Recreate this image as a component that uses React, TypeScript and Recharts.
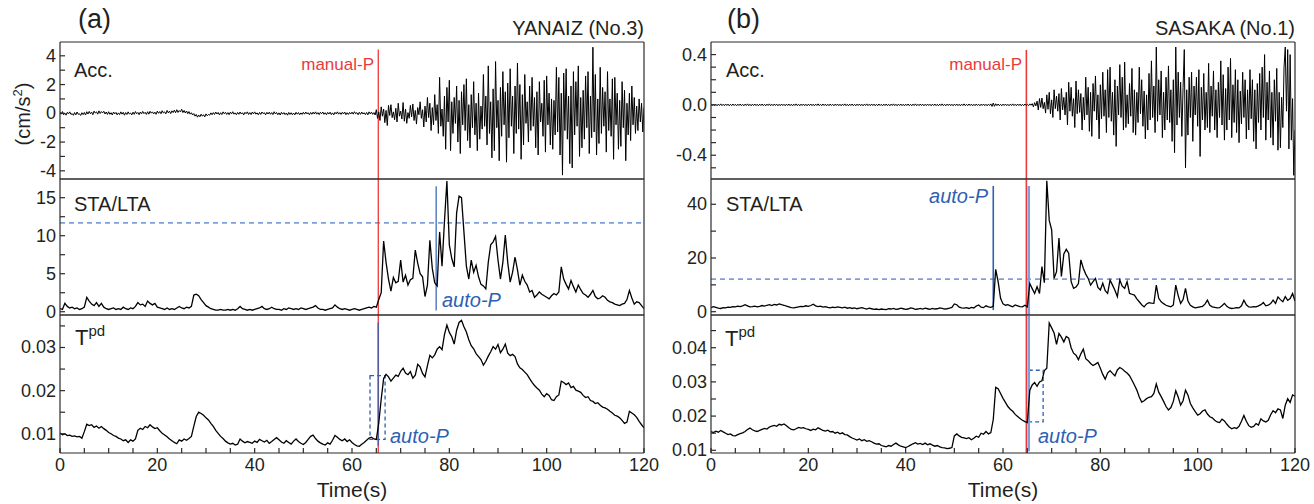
import React from 'react';
import { LineChart, Line, XAxis, YAxis, ReferenceLine, ReferenceArea } from 'recharts';

// ---- time axis ----
const X_TICKS = [0, 5, 10, 15, 20, 25, 30, 35, 40, 45, 50, 55, 60, 65, 70, 75, 80, 85, 90, 95, 100, 105, 110, 115, 120];
const X_LABELS = [0, 20, 40, 60, 80, 100, 120];

// sampling of the traced series
const QUIET_DT = 0.25; // acc before the P arrival
const STRONG_START = 65;
const STRONG_DT = 0.25; // acc after the P arrival
const SLOW_DT = 0.5; // STA/LTA and Tpd

// ---- (a) YANAIZ (No.3) ----
const accAQuiet = [
  .08, -.06, .12, -.1, .02, -.13, .07, -.04, .1, -.08, -.02, -.14, .05, -.11, .09, -.07,
  -.03, -.15, .04, -.09, .06, -.12, .11, -.05, .13, -.03, .08, -.1, .15, .02, .1, -.06,
  .17, -.01, .12, .03, .14, -.05, .09, -.08, .11, -.07, .04, -.12, .09, -.04, .06, -.11,
  .03, -.09, .1, -.06, .07, -.13, .05, -.08, .1, -.05, .02, -.11, .08, -.07, .12, -.03,
  .06, -.1, .09, -.04, .13, -.02, .07, -.08, .11, -.06, .14, .01, .1, -.04, .08, -.07,
  .15, 0, .12, -.03, .18, .02, .1, -.04, .2, .03, .15, -.02, .17, .05, .22, .04,
  .25, .06, .19, .1, .28, .05, .2, .02, .16, -.03, .12, -.06, .04, -.12, -.02, -.2,
  -.08, -.27, -.12, -.24, -.06, -.2, -.1, -.25, -.04, -.17, -.08, -.13, .03, -.1, .05, -.08,
  .09, -.05, .06, -.11, .04, -.09, .1, -.03, .07, -.08, .05, -.1, .08, -.04, .11, -.06,
  .03, -.1, .06, -.07, .09, -.05, .04, -.11, .07, -.03, .1, -.08, .05, -.09, .08, -.04,
  .1, -.06, .03, -.1, .06, -.08, .09, -.02, .04, -.11, .07, -.05, .08, -.07, .05, -.09,
  .11, -.04, .06, -.1, .03, -.12, .07, -.06, .05, -.09, .02, -.13, .06, -.08, .04, -.1,
  .02, -.11, .07, -.06, .05, -.1, .03, -.08, .07, -.06, .09, -.04, .04, -.1, .06, -.07,
  .08, -.05, .1, -.06, .05, -.09, .07, -.03, .09, -.07, .04, -.1, .06, -.05, .08, -.09,
  .03, -.11, .07, -.04, .1, -.06, .05, -.08, .07, -.04, .09, -.1, .04, -.08, .06, -.05,
  .08, -.06, .11, -.03, .05, -.1, .07, -.07, .09, -.05, .04, -.09, .06, -.11, .1, -.04,
  .08, -.07, .05, -.12,
];
const accAStrong = [
  .25, -.35, .1, -.5, .45, -.2, .3, -.65, .2, -.85, .55, -.15, .6, -.3, .1, -.45, .35, -.6, .7, -.2,
  .15, -.4, .75, -.55, .3, -.7, .05, -.35, .55, -.25, .65, -.5, .2, -.75, .4, -.1, .8, -.35, .25, -.95,
  .5, -.6, 1.1, -.3, .7, -1.2, .4, -.8, 1.3, -.5, .6, -1.4, 2.5, -.9, .3, -1.6, 1.2, -2.5, 1.8, -.6,
  2.3, -2.6, .8, -1.4, 1.1, -.7, 1.9, -2, .9, -2.8, 1.5, -.8, 2, -1.2, 2.4, -1.9, .6, -2.4, 1.3, -1,
  2.2, -1.5, .7, -2.6, 1.4, -1.8, .5, -1.1, 2.7, -.9, 1.2, -2.2, 3.3, -1.4, .8, -3.1, 1.7, -2.6, 3.6, -1,
  .9, -3.3, 1.8, -1.6, 2.9, -.8, 1.5, -3.4, 2.1, -1.7, 3.1, -.9, 1.2, -2.8, 1.9, -1.4, 3.5, -1.1, 2, -3.2,
  1.3, -2.2, 2.7, -.7, .8, -2, 1.9, -1.2, 2.5, -.9, 1.1, -2.4, 1.5, -2.9, 2.2, -.6, .7, -1.6, 2.3, -2.7,
  2.6, -.8, 1.4, -2.2, 1, -2.5, .9, -1.5, 3.2, -1.3, 2.5, -2.9, 1.4, -4.3, 2.8, -1.2, 3.1, -1.8, 1.2, -3.5,
  1.9, -3.8, 2.9, -1.5, 2.2, -.9, 3.3, -3, 1.1, -2.4, 1.6, -1.8, 2.6, -1, 2.9, -2.8, 1.2, -1.7, 4.6, -1.3,
  2.7, -2.9, 1, -2.1, 3.2, -1.4, 1.8, -.9, 1.5, -2.7, 2.9, -1.2, 1, -1.6, 2.4, -3.2, 2.5, -.8, 1.4, -2.5,
  .9, -2.3, 2.2, -1, 1.6, -3.3, .7, -1.5, 1.4, -1.9, 1.9, -.8, 1.1, -1.4, .5, -1.2, 1, -.6, .7, -1.3,
  .4,
];
const staA = [
  0.4, 0.3, 1.1, 0.7, 0.5, 0.6, 0.4, 0.5, 0.3, 0.4,
  0.6, 1.9, 1.4, 1.0, 0.8, 1.2, 0.7, 1.1, 0.6, 0.4,
  0.3, 0.4, 0.5, 0.3, 0.4, 0.3, 0.6, 0.4, 0.3, 0.5,
  0.4, 0.7, 1.2, 0.9, 1.0, 0.7, 1.4, 1.1, 0.9, 1.1,
  0.6, 0.5, 0.4, 0.3, 0.5, 0.3, 0.4, 0.3, 0.5, 0.7,
  0.5, 0.4, 0.6, 0.5, 0.7, 2.2, 2.3, 2.1, 1.6, 1.2,
  0.8, 0.6, 0.4, 0.3, 0.2, 0.2, 0.3, 0.2, 0.2, 0.3,
  0.2, 0.3, 0.2, 0.4, 0.7, 0.4, 0.3, 0.2, 0.3, 0.2,
  0.3, 0.4, 0.5, 0.7, 0.4, 0.3, 0.4, 0.6, 0.4, 0.3,
  0.3, 0.2, 0.4, 0.3, 0.5, 0.4, 0.3, 0.4, 0.3, 0.5,
  0.4, 0.3, 0.4, 0.5, 0.6, 0.8, 0.5, 0.3, 0.3, 0.2,
  0.3, 0.4, 0.5, 0.9, 0.6, 0.4, 0.3, 0.4, 0.3, 0.2,
  0.3, 0.4, 0.3, 0.2, 0.3, 0.4, 0.5, 0.6, 0.5, 0.7,
  0.6, 1.6, 2.5, 9.3, 6.5, 4.3, 2.7, 4.5, 3.8, 4.0,
  6.8, 3.9, 4.8, 3.5, 4.2, 4.4, 8.1, 6.4, 5.0, 4.6,
  2.0, 3.5, 9.4, 5.7, 3.8, 3.4, 10.5, 6.0, 11.9, 17.2,
  8.8, 7.0, 5.9, 13.0, 15.2, 15.0, 10.5, 6.0, 4.3, 6.8,
  5.2, 6.1, 4.6, 3.6, 3.4, 3.0, 6.5, 8.8, 9.2, 9.9,
  6.8, 4.3, 6.5, 10.1, 6.5, 3.9, 5.2, 7.2, 5.5, 3.5,
  4.8, 4.0, 3.5, 2.6, 2.8, 1.9, 2.2, 2.6, 2.3, 2.1,
  1.9, 1.7, 2.1, 2.4, 2.2, 2.6, 5.9, 4.3, 3.6, 3.0,
  4.1, 3.3, 2.6, 3.5, 2.9, 2.4, 2.2, 1.9, 2.3, 2.8,
  2.0, 1.7, 1.8, 2.1, 1.9, 1.5, 1.3, 1.2, 1.0, 0.9,
  0.8, 1.0, 1.1, 1.6, 2.8, 1.8, 1.0, 1.3, 1.2, 0.8,
  0.4,
];
const tpdA = [
  .0102, .0098, .0100, .0096, .0097, .0094, .0095, .0093, .0094, .0090,
  .0105, .0122, .0119, .0121, .0115, .0118, .0113, .0117, .0112, .0108,
  .0103, .0100, .0096, .0094, .0090, .0088, .0084, .0086, .0080, .0086,
  .0083, .0088, .0108, .0113, .0110, .0117, .0114, .0121, .0116, .0112,
  .0114, .0107, .0101, .0097, .0093, .0088, .0084, .0080, .0077, .0086,
  .0083, .0088, .0085, .0089, .0094, .0118, .0140, .0150, .0147, .0143,
  .0137, .0132, .0124, .0117, .0108, .0101, .0094, .0089, .0083, .0079,
  .0076, .0078, .0074, .0076, .0088, .0083, .0079, .0082, .0080, .0078,
  .0083, .0080, .0087, .0084, .0081, .0085, .0078, .0082, .0087, .0091,
  .0086, .0081, .0078, .0084, .0080, .0076, .0083, .0088, .0082, .0078,
  .0075, .0080, .0087, .0094, .0097, .0089, .0083, .0079, .0076, .0074,
  .0079, .0076, .0085, .0096, .0092, .0087, .0084, .0088, .0082, .0086,
  .0080, .0075, .0072, .0071, .0076, .0080, .0085, .0090, .0092, .0088,
  .0087, .0125, .0180, .0228, .0238, .0232, .0222, .0229, .0236, .0233,
  .0245, .0252, .0241, .0237, .0244, .0229, .0236, .0261, .0255, .0240,
  .0232, .0258, .0282, .0276, .0283, .0296, .0302, .0295, .0330, .0352,
  .0335, .0325, .0308, .0340, .0358, .0363, .0348, .0336, .0318, .0304,
  .0297, .0286, .0279, .0272, .0259, .0268, .0280, .0290, .0302, .0296,
  .0307, .0288, .0296, .0308, .0287, .0281, .0284, .0279, .0262, .0253,
  .0249, .0243, .0237, .0228, .0219, .0212, .0206, .0201, .0192, .0186,
  .0193, .0189, .0179, .0177, .0186, .0190, .0222, .0219, .0214, .0218,
  .0207, .0210, .0201, .0199, .0196, .0189, .0184, .0186, .0177, .0175,
  .0170, .0172, .0166, .0162, .0160, .0157, .0152, .0148, .0143, .0141,
  .0137, .0131, .0124, .0127, .0152, .0148, .0144, .0138, .0129, .0121,
  .0114,
];

// ---- (b) SASAKA (No.1) ----
const accBQuiet = [
  .006, -.005, .007, -.006, .005, -.007, .006, -.005, .008, -.006, .005, -.006, .007, -.005, .006, -.007, .005, -.006, .007, -.005,
  .005, -.007, .006, -.005, .007, -.006, .005, -.007, .006, -.005, .008, -.006, .005, -.007, .006, -.005, .007, -.006, .005, -.007,
  .006, -.005, .007, -.006, .005, -.007, .006, -.005, .008, -.006, .005, -.006, .007, -.005, .006, -.007, .005, -.006, .007, -.005,
  .005, -.007, .006, -.005, .007, -.006, .005, -.007, .006, -.005, .008, -.006, .005, -.007, .006, -.005, .007, -.006, .005, -.007,
  .006, -.005, .007, -.006, .005, -.007, .006, -.005, .008, -.006, .005, -.006, .007, -.005, .006, -.007, .005, -.006, .007, -.005,
  .005, -.007, .006, -.005, .007, -.006, .005, -.007, .006, -.005, .008, -.006, .005, -.007, .006, -.005, .007, -.006, .005, -.007,
  .006, -.005, .007, -.006, .005, -.007, .006, -.005, .008, -.006, .005, -.006, .007, -.005, .006, -.007, .005, -.006, .007, -.005,
  .005, -.007, .006, -.005, .007, -.006, .005, -.007, .006, -.005, .008, -.006, .005, -.007, .006, -.005, .007, -.006, .005, -.007,
  .006, -.005, .007, -.006, .005, -.007, .006, -.005, .008, -.006, .005, -.006, .007, -.005, .006, -.007, .005, -.006, .007, -.005,
  .005, -.007, .006, -.005, .007, -.006, .005, -.007, .006, -.005, .008, -.006, .005, -.007, .006, -.005, .007, -.006, .005, -.007,
  .006, -.005, .007, -.006, .005, -.007, .006, -.005, .008, -.006, .005, -.006, .007, -.005, .006, -.007, .005, -.006, .007, -.005,
  .005, -.007, .006, -.005, .007, -.006, .005, -.007, .006, -.005, .008, -.012, .015, -.011, .009, -.006, .007, -.006, .005, -.007,
  .006, -.005, .007, -.006, .005, -.007, .006, -.005, .008, -.006, .005, -.006, .007, -.005, .006, -.007, .005, -.006, .007, -.005,
];
const accBStrong = [
  .004, -.006, .008, -.003, .01, -.015, .018, -.008, .03, -.04, .05, -.02, .055, -.03, .02, -.065, .08, -.035, .1, -.07,
  .04, -.1, .12, -.03, .07, -.05, .09, -.12, .13, -.04, .06, -.08, .1, -.16, .18, -.05, .14, -.09, .05, -.18,
  .19, -.07, .12, -.06, .09, -.2, .06, -.12, .22, -.08, .14, -.21, .1, -.25, .17, -.05, .23, -.12, .08, -.27,
  .16, -.11, .26, -.09, .12, -.22, .28, -.1, .3, -.13, .1, -.24, .2, -.33, .15, -.08, .32, -.1, .22, -.2,
  .34, -.18, .08, -.15, .17, -.09, .29, -.22, .12, -.24, .1, -.14, .3, -.07, .2, -.17, .11, -.27, .08, -.2,
  .25, -.12, .35, -.1, .15, -.22, .46, -.13, .2, -.08, .27, -.26, .1, -.2, .22, -.12, .31, -.14, .12, -.29,
  .2, -.38, .46, -.16, .26, -.1, .18, -.25, .14, .44, -.5, .12, -.24, .22, -.1, .26, -.29, .15, -.08, .22,
  -.17, .28, -.41, .14, -.12, .25, -.2, .1, -.18, .33, -.22, .15, -.09, .27, -.2, .12, -.26, .18, -.1, .35,
  -.16, .24, -.28, .13, -.2, .3, -.12, .37, -.26, .16, -.14, .28, -.22, .2, -.3, .11, -.15, .26, -.1, .2,
  -.27, .12, -.2, .28, -.11, .2, -.29, .12, -.35, .17, -.14, .25, -.2, .3, -.1, .4, -.28, .18, -.12, .27,
  -.26, .1, -.32, .2, -.13, .29, -.36, .1, -.34, .06, -.18, .3, .46, -.05, .44, -.35, .4, -.28, .05, -.56,
  -.2,
];
const staB = [
  1.5, 1.9, 1.6, 1.3, 1.2, 1.5, 1.4, 1.7, 1.6, 1.9,
  1.8, 2.1, 1.9, 2.2, 2.6, 2.2, 1.8, 1.9, 2.1, 1.8,
  2.0, 2.3, 2.1, 2.4, 2.6, 2.3, 2.7, 2.5, 2.9, 2.6,
  2.4, 2.1, 1.8, 1.5, 1.4, 1.6, 1.8, 2.0, 1.9, 2.2,
  2.0, 2.3, 2.8, 2.2, 1.9, 2.1, 1.7, 1.9, 1.6, 1.4,
  1.7, 1.5, 1.8, 1.6, 1.4, 1.7, 1.3, 1.5, 1.2, 1.4,
  1.1, 1.3, 1.5, 1.2, 1.0, 1.3, 1.1, 0.9, 1.0, 0.8,
  1.0, 0.9, 0.8, 1.1, 1.0, 1.2, 0.9, 1.0, 1.3, 1.1,
  0.9, 1.0, 1.4, 1.2, 0.9, 1.0, 1.2, 1.0, 1.3, 1.1,
  0.9, 1.2, 1.0, 1.1, 1.4, 1.2, 1.0, 1.1, 1.3, 1.6,
  2.9, 2.6, 1.7, 1.4, 1.3, 1.5, 1.2, 1.6, 1.4, 2.1,
  2.5, 1.7, 1.5, 2.2, 1.8, 1.6, 2.0, 15.8, 11.2, 5.0,
  2.9, 2.4, 2.6, 2.2, 1.8, 2.5, 2.2, 1.9, 1.8, 2.4,
  1.8, 10.5, 8.6, 6.8, 9.3, 6.8, 16.8, 10.8, 48.8, 34.0,
  30.5, 12.4, 14.9, 27.4, 13.1, 21.5, 23.2, 21.8, 11.2, 8.7,
  9.2, 10.5, 19.3, 16.2, 14.0, 12.4, 9.9, 11.2, 12.4, 9.0,
  8.1, 10.6, 7.8, 6.8, 11.8, 9.9, 8.0, 5.6, 11.8, 9.5,
  8.7, 11.2, 6.8, 6.5, 6.2, 4.8, 3.7, 2.6, 1.8, 2.9,
  3.4, 3.2, 3.1, 9.9, 5.0, 3.7, 3.0, 2.4, 2.1, 1.8,
  2.5, 9.9, 6.0, 3.1, 4.5, 8.7, 4.0, 2.4, 1.8, 1.4,
  1.6, 1.8, 2.0, 2.8, 4.3, 2.4, 1.8, 1.6, 1.4, 1.5,
  2.2, 3.1, 2.0, 1.4, 1.2, 1.3, 1.5, 1.4, 2.2, 4.3,
  2.6, 1.8, 1.7, 1.9, 1.8, 2.2, 2.6, 3.4, 2.2, 2.4,
  3.0, 4.3, 3.1, 5.5, 4.5, 3.7, 5.6, 4.2, 4.9, 6.8,
  4.0,
];
const tpdB = [
  .0155, .0152, .0156, .0153, .0158, .0154, .0150, .0146, .0148, .0143,
  .0142, .0146, .0149, .0151, .0155, .0161, .0165, .0160, .0157, .0155,
  .0158, .0161, .0164, .0162, .0168, .0171, .0173, .0170, .0176, .0174,
  .0177, .0172, .0166, .0161, .0160, .0163, .0167, .0165, .0166, .0163,
  .0161, .0158, .0162, .0160, .0166, .0162, .0158, .0156, .0159, .0154,
  .0155, .0150, .0153, .0148, .0151, .0146, .0145, .0140, .0136, .0133,
  .0130, .0133, .0128, .0131, .0126, .0128, .0125, .0121, .0118, .0119,
  .0114, .0112, .0110, .0114, .0112, .0117, .0121, .0116, .0112, .0110,
  .0108, .0111, .0115, .0119, .0122, .0118, .0120, .0117, .0121, .0116,
  .0119, .0115, .0112, .0114, .0110, .0108, .0107, .0105, .0106, .0108,
  .0142, .0148, .0142, .0138, .0136, .0134, .0137, .0131, .0135, .0141,
  .0138, .0150, .0147, .0155, .0148, .0152, .0190, .0284, .0280, .0266,
  .0252, .0240, .0228, .0220, .0214, .0205, .0199, .0193, .0188, .0184,
  .0181, .0275, .0291, .0298, .0287, .0300, .0303, .0333, .0340, .0472,
  .0458, .0443, .0410, .0442, .0431, .0417, .0433, .0428, .0400, .0384,
  .0378, .0365, .0382, .0396, .0368, .0362, .0354, .0348, .0352, .0357,
  .0340, .0322, .0308, .0326, .0333, .0325, .0318, .0335, .0342, .0338,
  .0331, .0326, .0318, .0305, .0291, .0276, .0256, .0241, .0245, .0251,
  .0255, .0257, .0266, .0294, .0270, .0257, .0243, .0228, .0218, .0225,
  .0243, .0274, .0256, .0232, .0245, .0276, .0262, .0237, .0224, .0213,
  .0203, .0207, .0215, .0218, .0206, .0198, .0195, .0188, .0183, .0181,
  .0191, .0186, .0176, .0168, .0163, .0166, .0164, .0170, .0185, .0202,
  .0185, .0172, .0167, .0170, .0178, .0174, .0192, .0186, .0183, .0188,
  .0204, .0216, .0210, .0221, .0218, .0193, .0232, .0251, .0240, .0262,
  .0258,
];

// ---- y ticks ----
const ACC_A_TICKS = [-4, -3, -2, -1, 0, 1, 2, 3, 4];
const ACC_A_LABELS = [-4, -2, 0, 2, 4];
const ACC_B_TICKS = [-0.5, -0.4, -0.3, -0.2, -0.1, 0, 0.1, 0.2, 0.3, 0.4];
const ACC_B_LABELS = [-0.4, 0, 0.4];
const STA_A_TICKS = [0, 2.5, 5, 7.5, 10, 12.5, 15];
const STA_A_LABELS = [0, 5, 10, 15];
const STA_B_TICKS = [0, 10, 20, 30, 40];
const STA_B_LABELS = [0, 20, 40];
const TPD_A_TICKS = [0.01, 0.015, 0.02, 0.025, 0.03, 0.035];
const TPD_A_LABELS = [0.01, 0.02, 0.03];
const TPD_B_TICKS = [0.01, 0.015, 0.02, 0.025, 0.03, 0.035, 0.04, 0.045];
const TPD_B_LABELS = [0.01, 0.02, 0.03, 0.04];

// ---- picks / thresholds ----
const MANUAL_P_A = 65.4;
const MANUAL_P_B = 64.8;
const AUTO_P_STA_A = 77.3;
const AUTO_P_STA_B = 58.0;
const AUTO_P_TPD_A = 65.4;
const AUTO_P_TPD_B = 65.3;
const THRESH_A = 11.7;
const THRESH_B = 12.1;
const BOX_A = { x1: 63.7, x2: 66.8, y1: 0.0087, y2: 0.0235 };
const BOX_B = { x1: 65.3, x2: 68.25, y1: 0.0183, y2: 0.0334 };

// ---- layout ----
const FONT = '"Liberation Sans", Arial, Helvetica, sans-serif';
const INK = '#231f20';
const AXIS = '#2a2a2a';
const RED = '#ec3a3a';
const BLUE = '#2f5fb3';
const LIGHT_BLUE = '#7f9edc';
const PLOT_W = 584;
const Y_AXIS_W = 60;
const PAD = 14; // spare room so edge tick labels are not clipped
const COL_LEFT = [60, 711];
const ROW_TOP = [42, 179, 315];
const ROW_BOTTOM = [179, 315, 453];

type Pt = { t: number; v: number };
const toPoints = (values: number[], start: number, dt: number): Pt[] =>
  values.map((v, i) => ({ t: +(start + i * dt).toFixed(3), v }));

const accAData = [...toPoints(accAQuiet, 0, QUIET_DT), ...toPoints(accAStrong, STRONG_START, STRONG_DT)];
const accBData = [...toPoints(accBQuiet, 0, QUIET_DT), ...toPoints(accBStrong, STRONG_START, STRONG_DT)];
const staAData = toPoints(staA, 0, SLOW_DT);
const staBData = toPoints(staB, 0, SLOW_DT);
const tpdAData = toPoints(tpdA, 0, SLOW_DT);
const tpdBData = toPoints(tpdB, 0, SLOW_DT);

const XTick = (p: any) =>
  X_LABELS.includes(p.payload.value) ? (
    <text x={p.x} y={p.y + 18} textAnchor="middle" fontSize={18} fontFamily={FONT} fill={INK}>
      {p.payload.value}
    </text>
  ) : (
    <g />
  );

const makeYTick = (labels: number[], fmt: (v: number) => string) => (p: any) =>
  labels.includes(p.payload.value) ? (
    <text x={p.x} y={p.y} textAnchor="end" dominantBaseline="central" fontSize={18} fontFamily={FONT} fill={INK}>
      {fmt(p.payload.value)}
    </text>
  ) : (
    <g />
  );

type PanelProps = {
  data: Pt[];
  col: number;
  row: number;
  domain: [number, number];
  yTicks: number[];
  yLabels: number[];
  fmt: (v: number) => string;
  strokeWidth: number;
  children?: React.ReactNode;
};

function Panel({ data, col, row, domain, yTicks, yLabels, fmt, strokeWidth, children }: PanelProps) {
  const showX = row === 2;
  const plotH = ROW_BOTTOM[row] - ROW_TOP[row];
  const bottomH = showX ? 30 : 1;
  const bottomPad = showX ? 0 : PAD;
  return (
    <div style={{ position: 'absolute', left: COL_LEFT[col] - Y_AXIS_W, top: ROW_TOP[row] - 1 }}>
      <LineChart
        width={Y_AXIS_W + PLOT_W + 1 + PAD}
        height={1 + plotH + bottomH + bottomPad}
        data={data}
        margin={{ top: 0, right: PAD, bottom: bottomPad, left: 0 }}
      >
        <XAxis
          xAxisId="x"
          dataKey="t"
          type="number"
          domain={[0, 120]}
          ticks={X_TICKS}
          interval={0}
          allowDataOverflow
          height={bottomH}
          tickSize={-5}
          tickMargin={5}
          stroke={AXIS}
          strokeWidth={1.2}
          tick={showX ? XTick : false}
        />
        <XAxis
          xAxisId="xt"
          orientation="top"
          dataKey="t"
          type="number"
          domain={[0, 120]}
          ticks={X_TICKS}
          interval={0}
          allowDataOverflow
          height={1}
          tickSize={-5}
          stroke={AXIS}
          strokeWidth={1.2}
          tick={false}
        />
        <YAxis
          yAxisId="y"
          type="number"
          domain={domain}
          ticks={yTicks}
          interval={0}
          allowDataOverflow
          width={Y_AXIS_W}
          tickSize={-5}
          tickMargin={9}
          stroke={AXIS}
          strokeWidth={1.2}
          tick={makeYTick(yLabels, fmt)}
        />
        <YAxis
          yAxisId="yr"
          orientation="right"
          type="number"
          domain={domain}
          ticks={yTicks}
          interval={0}
          allowDataOverflow
          width={1}
          tickSize={-5}
          stroke={AXIS}
          strokeWidth={1.2}
          tick={false}
        />
        {children}
        <Line
          xAxisId="x"
          yAxisId="y"
          dataKey="v"
          type="linear"
          stroke="#000"
          strokeWidth={strokeWidth}
          dot={false}
          isAnimationActive={false}
        />
      </LineChart>
    </div>
  );
}

const intFmt = (v: number) => String(v);
const oneDec = (v: number) => v.toFixed(1);
const twoDec = (v: number) => v.toFixed(2);

const vSeg = (x: number, y1: number, y2: number) => [
  { x, y: y1 },
  { x, y: y2 },
];

const label = { fontFamily: FONT, fill: INK } as const;

export default function App() {
  const accADomain: [number, number] = [-4.57, 4.96];
  const accBDomain: [number, number] = [-0.589, 0.5];
  const staADomain: [number, number] = [-0.43, 17.46];
  const staBDomain: [number, number] = [-1.23, 49.42];
  const tpdADomain: [number, number] = [0.00555, 0.03753];
  const tpdBDomain: [number, number] = [0.00921, 0.04956];
  const ids = { xAxisId: 'x', yAxisId: 'y' };

  return (
    <div style={{ position: 'absolute', left: 0, top: 0, width: 1314, height: 504, background: '#fff', overflow: 'hidden' }}>
      {/* (a) */}
      <Panel data={accAData} col={0} row={0} domain={accADomain} yTicks={ACC_A_TICKS} yLabels={ACC_A_LABELS} fmt={intFmt} strokeWidth={1}>
        <ReferenceLine {...ids} segment={vSeg(MANUAL_P_A, 4.44, -4.57)} stroke={RED} strokeWidth={1.3} ifOverflow="hidden" />
      </Panel>
      <Panel data={staAData} col={0} row={1} domain={staADomain} yTicks={STA_A_TICKS} yLabels={STA_A_LABELS} fmt={intFmt} strokeWidth={1.3}>
        <ReferenceLine {...ids} y={THRESH_A} stroke={LIGHT_BLUE} strokeWidth={1.8} strokeDasharray="5 4" />
        <ReferenceLine {...ids} x={MANUAL_P_A} stroke={RED} strokeWidth={1.3} />
        <ReferenceLine {...ids} segment={vSeg(AUTO_P_STA_A, 16.5, 0.15)} stroke={BLUE} strokeOpacity={0.75} strokeWidth={1.6} ifOverflow="hidden" />
      </Panel>
      <Panel data={tpdAData} col={0} row={2} domain={tpdADomain} yTicks={TPD_A_TICKS} yLabels={TPD_A_LABELS} fmt={twoDec} strokeWidth={1.3}>
        <ReferenceLine {...ids} x={MANUAL_P_A} stroke={RED} strokeWidth={1.3} />
        <ReferenceLine {...ids} segment={vSeg(AUTO_P_TPD_A, 0.0358, 0.0072)} stroke={BLUE} strokeOpacity={0.8} strokeWidth={1.6} ifOverflow="hidden" />
        <ReferenceArea {...ids} x1={BOX_A.x1} x2={BOX_A.x2} y1={BOX_A.y1} y2={BOX_A.y2} fill="none" fillOpacity={0} stroke={BLUE} strokeWidth={1.3} strokeDasharray="4 3" />
      </Panel>

      {/* (b) */}
      <Panel data={accBData} col={1} row={0} domain={accBDomain} yTicks={ACC_B_TICKS} yLabels={ACC_B_LABELS} fmt={oneDec} strokeWidth={1}>
        <ReferenceLine {...ids} segment={vSeg(MANUAL_P_B, 0.437, -0.589)} stroke={RED} strokeWidth={1.6} ifOverflow="hidden" />
      </Panel>
      <Panel data={staBData} col={1} row={1} domain={staBDomain} yTicks={STA_B_TICKS} yLabels={STA_B_LABELS} fmt={intFmt} strokeWidth={1.3}>
        <ReferenceLine {...ids} y={THRESH_B} stroke={LIGHT_BLUE} strokeWidth={1.8} strokeDasharray="5 4" />
        <ReferenceLine {...ids} x={MANUAL_P_B} stroke={RED} strokeWidth={1.6} />
        <ReferenceLine {...ids} segment={vSeg(AUTO_P_TPD_B, 46.8, -1.23)} stroke={LIGHT_BLUE} strokeWidth={2.5} ifOverflow="hidden" />
        <ReferenceLine {...ids} segment={vSeg(AUTO_P_STA_B, 46.8, 0.6)} stroke={BLUE} strokeWidth={1.6} ifOverflow="hidden" />
      </Panel>
      <Panel data={tpdBData} col={1} row={2} domain={tpdBDomain} yTicks={TPD_B_TICKS} yLabels={TPD_B_LABELS} fmt={twoDec} strokeWidth={1.3}>
        <ReferenceLine {...ids} x={MANUAL_P_B} stroke={RED} strokeWidth={1.6} />
        <ReferenceLine {...ids} segment={vSeg(AUTO_P_TPD_B, 0.0495, 0.0097)} stroke={LIGHT_BLUE} strokeWidth={2.5} ifOverflow="hidden" />
        <ReferenceArea {...ids} x1={BOX_B.x1} x2={BOX_B.x2} y1={BOX_B.y1} y2={BOX_B.y2} fill="none" fillOpacity={0} stroke={BLUE} strokeWidth={1.3} strokeDasharray="4 3" />
      </Panel>

      {/* text overlay */}
      <svg width={1314} height={504} style={{ position: 'absolute', left: 0, top: 0, pointerEvents: 'none' }}>
        <text x={78} y={28} fontSize={27} {...label}>(a)</text>
        <text x={644} y={35} fontSize={20} textAnchor="end" {...label}>YANAIZ (No.3)</text>
        <text x={74} y={77} fontSize={20} {...label}>Acc.</text>
        <text x={374} y={70} fontSize={17} textAnchor="end" fontFamily={FONT} fill={RED}>manual-P</text>
        <text transform="translate(30,114) rotate(-90)" fontSize={20} textAnchor="middle" {...label}>
          (cm/s<tspan fontSize={13} dy={-8}>2</tspan>
          <tspan dy={8}>)</tspan>
        </text>
        <text x={74} y={211} fontSize={20} {...label}>STA/LTA</text>
        <text x={442} y={307} fontSize={20} fontStyle="italic" fontFamily={FONT} fill={BLUE}>auto-P</text>
        <text x={75} y={345} fontSize={22} {...label}>
          T<tspan fontSize={15} dy={-9}>pd</tspan>
        </text>
        <text x={390} y={443} fontSize={20} fontStyle="italic" fontFamily={FONT} fill={BLUE}>auto-P</text>
        <text x={352} y={497} fontSize={21} textAnchor="middle" {...label}>Time(s)</text>

        <text x={727} y={28} fontSize={27} {...label}>(b)</text>
        <text x={1295} y={35} fontSize={20} textAnchor="end" {...label}>SASAKA (No.1)</text>
        <text x={726} y={77} fontSize={20} {...label}>Acc.</text>
        <text x={1022} y={70} fontSize={17} textAnchor="end" fontFamily={FONT} fill={RED}>manual-P</text>
        <text x={726} y={211} fontSize={20} {...label}>STA/LTA</text>
        <text x={988} y={203} fontSize={20} textAnchor="end" fontStyle="italic" fontFamily={FONT} fill={BLUE}>auto-P</text>
        <text x={725} y={346} fontSize={22} {...label}>
          T<tspan fontSize={15} dy={-9}>pd</tspan>
        </text>
        <text x={1038} y={443} fontSize={20} fontStyle="italic" fontFamily={FONT} fill={BLUE}>auto-P</text>
        <text x={1003} y={497} fontSize={21} textAnchor="middle" {...label}>Time(s)</text>
      </svg>
    </div>
  );
}
